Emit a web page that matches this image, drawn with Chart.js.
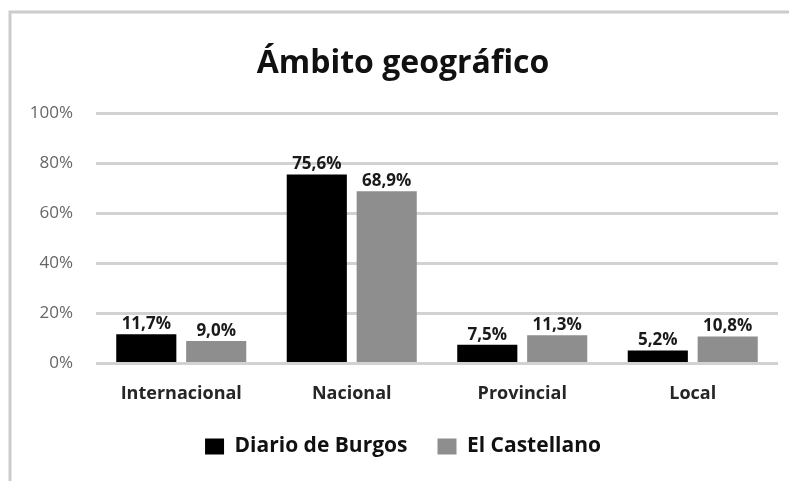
<!DOCTYPE html>
<html><head><meta charset="utf-8">
<script src="https://cdn.jsdelivr.net/npm/chart.js@4/dist/chart.umd.min.js"></script>
<style>html,body{margin:0;padding:0;background:#fff;}#wrap{width:789px;height:481px;position:relative;}</style>
</head><body><div id="wrap"><canvas id="c" width="789" height="481"></canvas></div>
<script>
const categories = ["Internacional", "Nacional", "Provincial", "Local"];
const diarioDeBurgos = [11.7, 75.6, 7.5, 5.2];
const elCastellano = [9.0, 68.9, 11.3, 10.8];
const yTicks = [0, 20, 40, 60, 80, 100];
const seriesNames = ["Diario de Burgos", "El Castellano"];
const FONT = "'Open Sans', sans-serif";

const framePlugin = {
  id: 'frame',
  beforeDraw(chart) {
    const ctx = chart.ctx;
    ctx.save();
    ctx.strokeStyle = '#cccccc';
    ctx.lineWidth = 3;
    ctx.beginPath();
    ctx.moveTo(10, 481);
    ctx.lineTo(10, 12);
    ctx.lineTo(789, 12);
    ctx.stroke();
    ctx.restore();
  }
};
// wider horizontal gap between legend items without changing the legend's vertical placement
const legendSpacing = {
  id: 'legendSpacing',
  beforeLayout(chart) {
    const lg = chart.legend;
    if (lg && !lg._patched) {
      const orig = lg.fit;
      lg.fit = function () { orig.call(this); this.height -= 21; };
      lg._patched = true;
    }
  },
  afterLayout(chart) {
    const lg = chart.legend;
    if (lg) { lg.top -= 19; lg.height += 19; }
  }
};
const labelPlugin = {
  id: 'valueLabels',
  afterDatasetsDraw(chart) {
    const ctx = chart.ctx;
    ctx.save();
    ctx.font = "bold 17px " + FONT;
    ctx.fillStyle = '#1a1a1a';
    ctx.textAlign = 'center';
    ctx.textBaseline = 'alphabetic';
    chart.data.datasets.forEach((ds, i) => {
      chart.getDatasetMeta(i).data.forEach((bar, j) => {
        const v = ds.data[j];
        ctx.fillText(v.toFixed(1).replace('.', ',') + '%', bar.x, bar.y - 5);
      });
    });
    ctx.restore();
  }
};

new Chart(document.getElementById('c'), {
  type: 'bar',
  data: {
    labels: categories,
    datasets: [
      { label: seriesNames[0], data: diarioDeBurgos, backgroundColor: '#000000' },
      { label: seriesNames[1], data: elCastellano, backgroundColor: '#8e8e8e' }
    ]
  },
  options: {
    responsive: false,
    animation: false,
    devicePixelRatio: 1,
    layout: { padding: { left: 28, right: 11, top: 20, bottom: 16 } },
    datasets: { bar: { categoryPercentage: 0.82, barPercentage: 0.86 } },
    plugins: {
      title: { display: true, text: 'Ámbito geográfico', color: '#111',
        font: { family: FONT, size: 32, weight: 'bold' }, padding: { top: 25, bottom: 30 } },
      legend: { position: 'bottom',
        labels: { color: '#111', boxWidth: 19, boxHeight: 16, padding: 30,
          font: { family: FONT, size: 21, weight: 'bold' } } },
      tooltip: { enabled: false }
    },
    scales: {
      x: {
        grid: { display: false, drawTicks: false },
        border: { display: false },
        ticks: { color: '#262626', padding: 20, font: { family: FONT, size: 18, weight: 'bold' } }
      },
      y: {
        min: 0, max: 100,
        afterBuildTicks(axis) { axis.ticks = yTicks.map(v => ({ value: v })); },
        afterFit(axis) { axis.width = 68; },
        grid: { color: '#d2d2d2', lineWidth: 3, drawTicks: false },
        border: { display: false },
        ticks: { color: '#666', padding: 23, callback: v => v + '%',
          font: { family: FONT, size: 17 } }
      }
    }
  },
  plugins: [framePlugin, legendSpacing, labelPlugin]
});
</script></body></html>
